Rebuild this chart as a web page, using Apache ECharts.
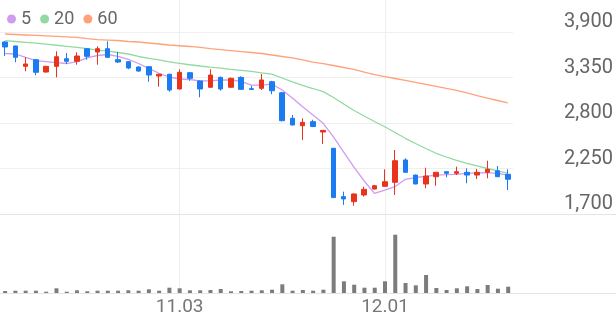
<!DOCTYPE html>
<html><head><meta charset="utf-8">
<script src="https://cdn.jsdelivr.net/npm/echarts@6/dist/echarts.min.js"></script>
<style>html,body{margin:0;padding:0;background:#fff}#c{width:616px;height:321px}</style>
</head><body><div id="c"></div>
<script>
const dates = ['10.02','10.10','10.13','10.14','10.15','10.16','10.17','10.20','10.21','10.22','10.23','10.24','10.27','10.28','10.29','10.30','10.31',
'11.03','11.04','11.05','11.06','11.07','11.10','11.11','11.12','11.13','11.14','11.17','11.18','11.19','11.20','11.21','11.24','11.25','11.26','11.27','11.28',
'12.01','12.02','12.03','12.04','12.05','12.08','12.09','12.10','12.11','12.12','12.15','12.16','12.17'];
const opens  = [3779,3731,3485,3565,3416,3485,3577,3546,3698,3658,3698,3565,3541,3477,3481,3368,3389,3211,3408,3308,3232,3352,3232,3352,3215,3219,3299,3166,2857,2767,2816,2691,2494,1910,1849,1930,2002,2035,2083,2353,2171,2063,2151,2211,2192,2204,2171,2204,2223,2180];
const closes = [3719,3594,3513,3413,3485,3601,3546,3610,3606,3698,3594,3537,3465,3428,3380,3389,3199,3413,3340,3211,3380,3211,3340,3207,3205,3320,3190,2828,2776,2808,2758,2711,1898,1882,1942,1998,2042,2090,2344,2204,2063,2159,2204,2192,2211,2171,2204,2240,2151,2120];
const lows   = [3610,3534,3425,3377,3410,3352,3513,3505,3565,3505,3590,3525,3450,3420,3299,3239,3178,3205,3311,3111,3225,3190,3225,3200,3205,3199,3147,2820,2770,2594,2750,2546,1898,1809,1800,1910,1995,2030,1930,2200,2060,2011,2042,2144,2171,2071,2123,2132,2145,1990];
const highs  = [3791,3735,3594,3575,3490,3667,3646,3655,3700,3727,3788,3658,3545,3485,3481,3395,3395,3449,3415,3315,3449,3360,3350,3365,3250,3392,3310,3175,2897,2857,2840,2715,2500,1970,1950,2030,2050,2240,2474,2374,2175,2260,2204,2215,2272,2252,2244,2344,2280,2240];
const volumes = [20000,23000,23000,23000,13000,47000,13000,27000,17000,23000,23000,23000,27000,23000,37000,23000,53000,47000,27000,27000,30000,40000,17000,20000,23000,27000,33000,87000,23000,30000,23000,33000,563000,117000,83000,53000,53000,117000,583000,100000,77000,180000,50000,30000,47000,67000,40000,80000,43000,63000];
const ma5  = [3640,3634,3592,3555,3543,3531,3519,3543,3586,3616,3628,3606,3568,3519,3461,3401,3356,3332,3326,3308,3308,3320,3320,3302,3259,3259,3271,3199,3102,2997,2897,2796,2631,2449,2268,2099,1950,1990,2030,2119,2141,2156,2171,2175,2180,2190,2196,2199,2192,2171];
const ma20 = [3795,3785,3775,3765,3753,3740,3727,3713,3698,3682,3668,3652,3634,3604,3580,3562,3540,3522,3504,3489,3475,3463,3449,3437,3423,3407,3392,3344,3296,3254,3217,3179,3108,3030,2951,2885,2818,2755,2685,2615,2552,2492,2434,2389,2347,2313,2283,2250,2220,2192];
const ma60 = [3876,3870,3864,3858,3852,3846,3840,3834,3821,3809,3803,3797,3785,3779,3767,3755,3743,3734,3725,3713,3700,3688,3676,3664,3652,3640,3622,3604,3586,3562,3537,3519,3495,3471,3447,3416,3386,3360,3338,3314,3290,3266,3242,3218,3194,3163,3132,3102,3072,3042];
const yTicks = [1700, 2250, 2800, 3350, 3900];
const xTickLabels = ['11.03', '12.01'];
const maNames = ['5', '20', '60'];
const maColors = ['#cf9cf0', '#92d9a2', '#ffa27c'];

const candleData = dates.map((d, i) => [opens[i], closes[i], lows[i], highs[i]]);
const maData = [ma5, ma20, ma60];
const FONT = 'Roboto';

const chart = echarts.init(document.getElementById('c'), null, {renderer: 'canvas'});
const option = {
  animation: false,
  textStyle: {fontFamily: FONT},
  legend: {
    data: maNames, left: 2, top: 5, icon: 'circle', itemWidth: 9, itemHeight: 9, itemGap: 9,
    selectedMode: false,
    textStyle: {color: '#666', fontSize: 18, fontFamily: FONT}
  },
  grid: [
    {left: 0, top: 32, width: 513.3, height: 182},
    {left: 0, right: 0, top: 230, height: 63},
    {left: 5.13, top: 0, width: 503.07, height: 293},
    {left: 0, right: 0, top: 0, height: 214}
  ],
  xAxis: [
    {gridIndex: 0, type: 'category', data: dates, boundaryGap: true,
     axisLine: {show: false}, axisTick: {show: false}, axisLabel: {show: false}, splitLine: {show: false}},
    {gridIndex: 1, type: 'category', data: dates, boundaryGap: true, max: 59,
     axisLine: {show: true, lineStyle: {color: '#e4e4e4', width: 1}}, axisTick: {show: false},
     axisLabel: {interval: (i, v) => xTickLabels.includes(v), color: '#777', fontSize: 19, margin: 5, fontFamily: FONT},
     splitLine: {show: false}},
    {gridIndex: 2, type: 'category', data: dates, boundaryGap: false,
     axisLine: {show: false}, axisTick: {show: false}, axisLabel: {show: false},
     splitLine: {show: true, interval: (i, v) => xTickLabels.includes(v), lineStyle: {color: '#eeeeee', width: 1}}},
    {gridIndex: 3, type: 'value', axisLine: {show: true, onZero: false, lineStyle: {color: '#e4e4e4', width: 1}},
     axisTick: {show: false}, axisLabel: {show: false}, splitLine: {show: false}}
  ],
  yAxis: [
    {gridIndex: 0, type: 'value', position: 'right', min: yTicks[0], max: yTicks[yTicks.length - 1],
     interval: yTicks[1] - yTicks[0],
     axisLine: {show: false}, axisTick: {show: false},
     splitLine: {show: true, lineStyle: {color: '#efefef', width: 1}},
     axisLabel: {align: 'right', verticalAlign: 'bottom', margin: 100, color: '#666', fontSize: 20, fontFamily: FONT,
       formatter: v => v.toLocaleString('en-US')}},
    {gridIndex: 1, type: 'value', min: 0, max: 630000, show: false},
    {gridIndex: 2, type: 'value', show: false},
    {gridIndex: 3, type: 'value', show: false}
  ],
  series: [
    ...maNames.map((n, k) => ({
      name: n, type: 'line', xAxisIndex: 0, yAxisIndex: 0, data: maData[k],
      symbol: 'none', smooth: false, z: 2,
      itemStyle: {color: maColors[k]}, lineStyle: {color: maColors[k], width: 1.3}
    })),
    {name: 'K', type: 'candlestick', xAxisIndex: 0, yAxisIndex: 0, data: candleData, barWidth: 5, z: 3,
     itemStyle: {color: '#e8341c', color0: '#1b7cf2', borderColor: '#e8341c', borderColor0: '#1b7cf2', borderWidth: 1}},
    {name: 'Vol', type: 'bar', xAxisIndex: 1, yAxisIndex: 1, data: volumes, barWidth: 4,
     itemStyle: {color: '#7c7c7c'}}
  ]
};
chart.setOption(option);
</script>
</body></html>
